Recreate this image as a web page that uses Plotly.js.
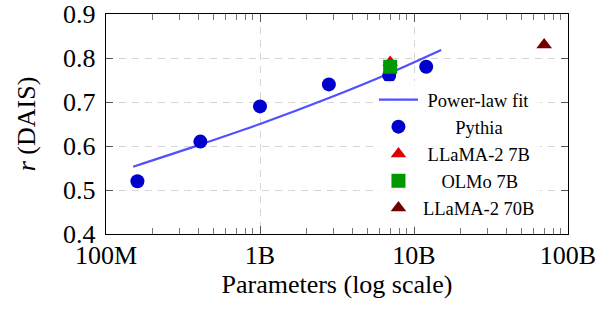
<!DOCTYPE html>
<html>
<head>
<meta charset="utf-8">
<script src="https://cdn.plot.ly/plotly-3.0.1.min.js"></script>
<style>
html,body{margin:0;padding:0;background:#fff;}
#chart{width:610px;height:312px;}
</style>
</head>
<body>
<div id="chart"></div>
<script>
// ---- data ----
const fitX = [1.5e8, 4.0e8, 1.0e9, 2.8e9, 7.0e9, 1.5e10];
const fitY = [0.553, 0.602, 0.650, 0.709, 0.766, 0.818];

const pythiaX = [1.6e8, 4.1e8, 1.0e9, 2.8e9, 6.9e9, 1.2e10];
const pythiaY = [0.52, 0.61, 0.69, 0.74, 0.76, 0.78];

const llama7X = [7.0e9];
const llama7Y = [0.79];

const olmoX = [7.0e9];
const olmoY = [0.78];

const llama70X = [7.0e10];
const llama70Y = [0.83];

const xTickVals = [1e8, 1e9, 1e10, 1e11];
const xTickText = ['100M', '1B', '10B', '100B'];
const xMinorVals = [];
[1e8, 1e9, 1e10].forEach(d => { for (let k = 2; k <= 9; k++) xMinorVals.push(k * d); });

const legendNames = {
  fit: '\u00a0Power-law fit',
  pythia: '\u00a0\u00a0\u00a0\u00a0\u00a0\u00a0\u00a0Pythia',
  llama7: '\u00a0LLaMA-2 7B',
  olmo: '\u00a0\u00a0\u00a0\u00a0OLMo 7B',
  llama70: 'LLaMA-2 70B'
};

const FONT = 'Liberation Serif, Times New Roman, serif';

const traces = [
  {x: fitX, y: fitY, mode: 'lines', name: legendNames.fit,
   line: {color: '#5050ff', width: 2.2, shape: 'spline'}},
  {x: pythiaX, y: pythiaY, mode: 'markers', name: legendNames.pythia,
   marker: {symbol: 'circle', size: 14, color: '#0000cc'}},
  {x: llama7X, y: llama7Y, mode: 'markers', name: legendNames.llama7,
   marker: {symbol: 'triangle-up', size: 13.6, color: '#dd0000'}},
  {x: olmoX, y: olmoY, mode: 'markers', name: legendNames.olmo,
   marker: {symbol: 'square', size: 14, color: '#009900'}},
  {x: llama70X, y: llama70Y, mode: 'markers', name: legendNames.llama70,
   marker: {symbol: 'triangle-up', size: 13.6, color: '#700000'}}
];

const layout = {
  width: 610, height: 312,
  margin: {l: 106, r: 42, t: 14, b: 78},
  paper_bgcolor: '#fff', plot_bgcolor: '#fff',
  font: {family: FONT, size: 26, color: '#000'},
  showlegend: true,
  legend: {
    x: 0.580, y: 0.695, xanchor: 'left', yanchor: 'top',
    bgcolor: 'rgba(255,255,255,0.85)', borderwidth: 0,
    font: {family: FONT, size: 18.5, color: '#000'},
    itemwidth: 39
  },
  xaxis: {
    type: 'log', range: [8, 11],
    tickmode: 'array', tickvals: xTickVals, ticktext: xTickText,
    ticks: 'inside', ticklen: 8, tickwidth: 1, tickcolor: '#555',
    minor: {tickmode: 'array', tickvals: xMinorVals, ticks: 'inside', ticklen: 6, tickwidth: 1, tickcolor: '#777', showgrid: false},
    showline: true, linecolor: '#000', linewidth: 1.2, mirror: 'ticks',
    showgrid: true, gridcolor: '#d6d6d6', gridwidth: 1, griddash: '7px,6px',
    zeroline: false,
    tickfont: {family: FONT, size: 26},
    ticklabelstandoff: -2,
    title: {text: 'Parameters (log scale)', font: {family: FONT, size: 26}, standoff: 0}
  },
  yaxis: {
    range: [0.4, 0.9], tickmode: 'array', tickvals: [0.4, 0.5, 0.6, 0.7, 0.8, 0.9],
    ticktext: ['0.4', '0.5', '0.6', '0.7', '0.8', '0.9'],
    ticks: 'inside', ticklen: 7, tickwidth: 1, tickcolor: '#555',
    showline: true, linecolor: '#000', linewidth: 1.2, mirror: 'ticks',
    showgrid: true, gridcolor: '#d6d6d6', gridwidth: 1, griddash: '7px,6px',
    zeroline: false,
    tickfont: {family: FONT, size: 26},
    ticklabelstandoff: 4,
    title: {text: '<i>r</i> (DAIS)', font: {family: FONT, size: 26}, standoff: 20}
  }
};

Plotly.newPlot('chart', traces, layout, {staticPlot: true, displayModeBar: false});
</script>
</body>
</html>
